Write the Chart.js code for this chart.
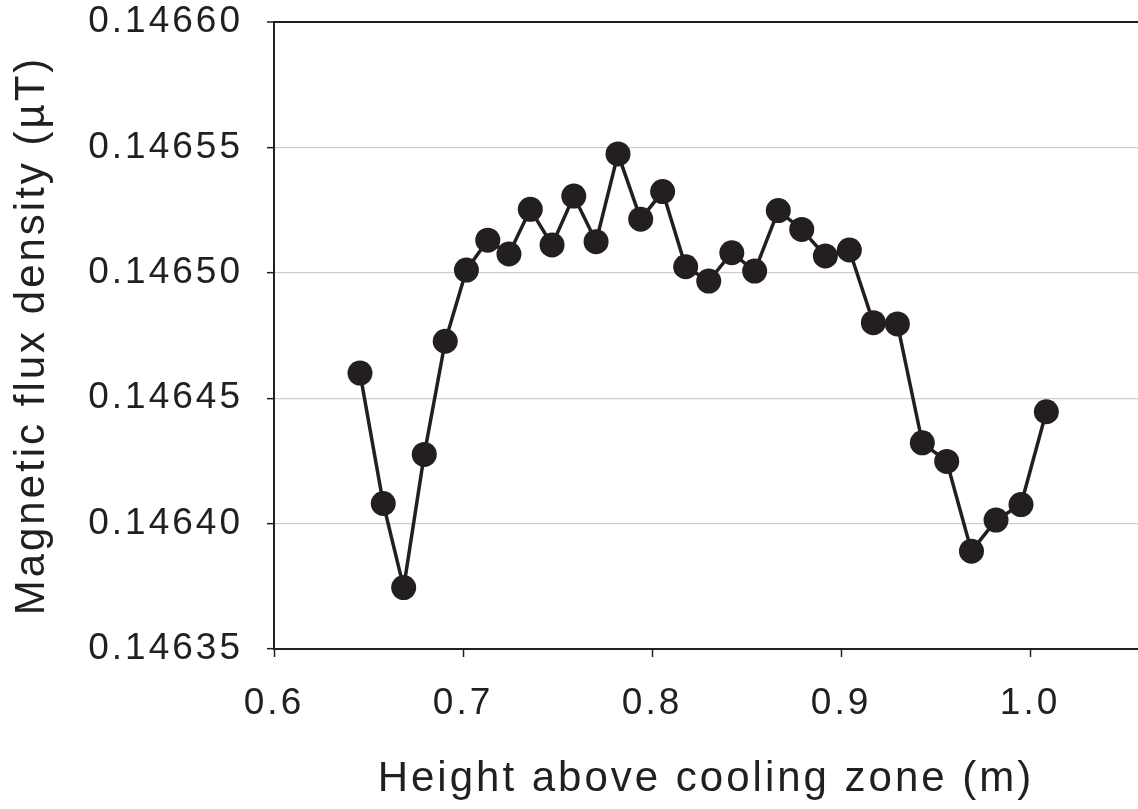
<!DOCTYPE html>
<html>
<head>
<meta charset="utf-8">
<script src="https://cdn.jsdelivr.net/npm/chart.js@4/dist/chart.umd.min.js"></script>
<style>
  html, body { margin: 0; padding: 0; background: #fff; }
  #wrap { width: 1138px; height: 809px; position: relative; }
</style>
</head>
<body>
<div id="wrap"><canvas id="chart"></canvas></div>
<script>
// height above cooling zone (m)
const heights = [0.6455, 0.6578, 0.6686, 0.6795, 0.6906, 0.7018, 0.7131, 0.7243, 0.7356, 0.7471,
                 0.7586, 0.7704, 0.7820, 0.7940, 0.8056, 0.8178, 0.8300, 0.8422, 0.8543, 0.8668,
                 0.8792, 0.8917, 0.9044, 0.9171, 0.9298, 0.9430, 0.9559, 0.9690, 0.9820, 0.9952,
                 1.0086];
// magnetic flux density (uT)
const flux = [0.146460, 0.146408, 0.1463745, 0.1464276, 0.1464727, 0.1465011, 0.146513, 0.1465075, 0.1465253, 0.1465111,
              0.1465306, 0.1465124, 0.1465474, 0.1465214, 0.1465324, 0.1465024, 0.1464967, 0.146508, 0.1465007, 0.1465248,
              0.1465173, 0.1465067, 0.1465091, 0.1464801, 0.1464796, 0.1464322, 0.1464248, 0.146389, 0.1464014, 0.1464076,
              0.1464446];

const xTicks = [0.6, 0.7, 0.8, 0.9, 1.0];
const yTicks = [0.14635, 0.14640, 0.14645, 0.14650, 0.14655, 0.14660];

const ink = '#231f20';
const font = 'Liberation Sans, Arial, Helvetica, sans-serif';

// the original figure uses slightly spaced-out lettering
const spacing = {
    id: 'spacing',
    beforeUpdate: function (chart) { chart.ctx.letterSpacing = '3px'; },
    beforeDraw: function (chart) { chart.ctx.letterSpacing = '3px'; }
};

const points = heights.map(function (h, i) { return { x: h, y: flux[i] }; });

new Chart(document.getElementById('chart'), {
    type: 'scatter',
    data: {
        datasets: [{
            data: points,
            showLine: true,
            borderColor: ink,
            backgroundColor: ink,
            borderWidth: 3.5,
            pointRadius: 12.5,
            pointBorderWidth: 0,
            pointBackgroundColor: ink
        }]
    },
    plugins: [spacing],
    options: {
        responsive: true,
        maintainAspectRatio: false,
        animation: false,
        layout: { padding: 0, autoPadding: false },
        plugins: {
            legend: { display: false },
            tooltip: { enabled: false }
        },
        scales: {
            x: {
                type: 'linear',
                min: 0.6,
                max: 1.0571,
                afterBuildTicks: function (scale) {
                    scale.ticks = xTicks.map(function (v) { return { value: v }; });
                },
                afterFit: function (scale) {
                    scale.height = 160;
                    scale.paddingLeft = 0;
                    scale.paddingRight = 0;
                },
                ticks: {
                    color: ink,
                    font: { family: font, size: 37 },
                    padding: 25,
                    maxRotation: 0,
                    callback: function (v) { return Number(v).toFixed(1); }
                },
                grid: {
                    drawOnChartArea: false,
                    drawTicks: true,
                    tickLength: 8,
                    tickColor: ink,
                    tickWidth: 1.5
                },
                border: { color: ink, width: 2 },
                title: {
                    display: true,
                    text: 'Height above cooling zone (m)',
                    color: ink,
                    font: { family: font, size: 42 },
                    padding: { top: 0, bottom: 4 }
                }
            },
            y: {
                min: 0.14635,
                max: 0.14660,
                afterBuildTicks: function (scale) {
                    scale.ticks = yTicks.map(function (v) { return { value: v }; });
                },
                afterFit: function (scale) {
                    scale.width = 274;
                    scale.paddingTop = 22;
                    scale.paddingBottom = 0;
                },
                ticks: {
                    color: ink,
                    font: { family: font, size: 37 },
                    padding: 24,
                    callback: function (v) { return Number(v).toFixed(5); }
                },
                grid: {
                    drawTicks: true,
                    tickLength: 7,
                    tickColor: ink,
                    tickWidth: 1.5,
                    color: function (c) {
                        if (c.tick && Math.abs(c.tick.value - 0.14660) < 1e-9) return ink;
                        return '#cfcfcf';
                    },
                    lineWidth: function (c) {
                        if (c.tick && Math.abs(c.tick.value - 0.14660) < 1e-9) return 2;
                        return 1.3;
                    }
                },
                border: { color: ink, width: 2 },
                title: {
                    display: true,
                    text: 'Magnetic flux density (\u00b5T)',
                    color: ink,
                    font: { family: font, size: 42 },
                    padding: { top: 7, bottom: 0 }
                }
            }
        }
    }
});
</script>
</body>
</html>
